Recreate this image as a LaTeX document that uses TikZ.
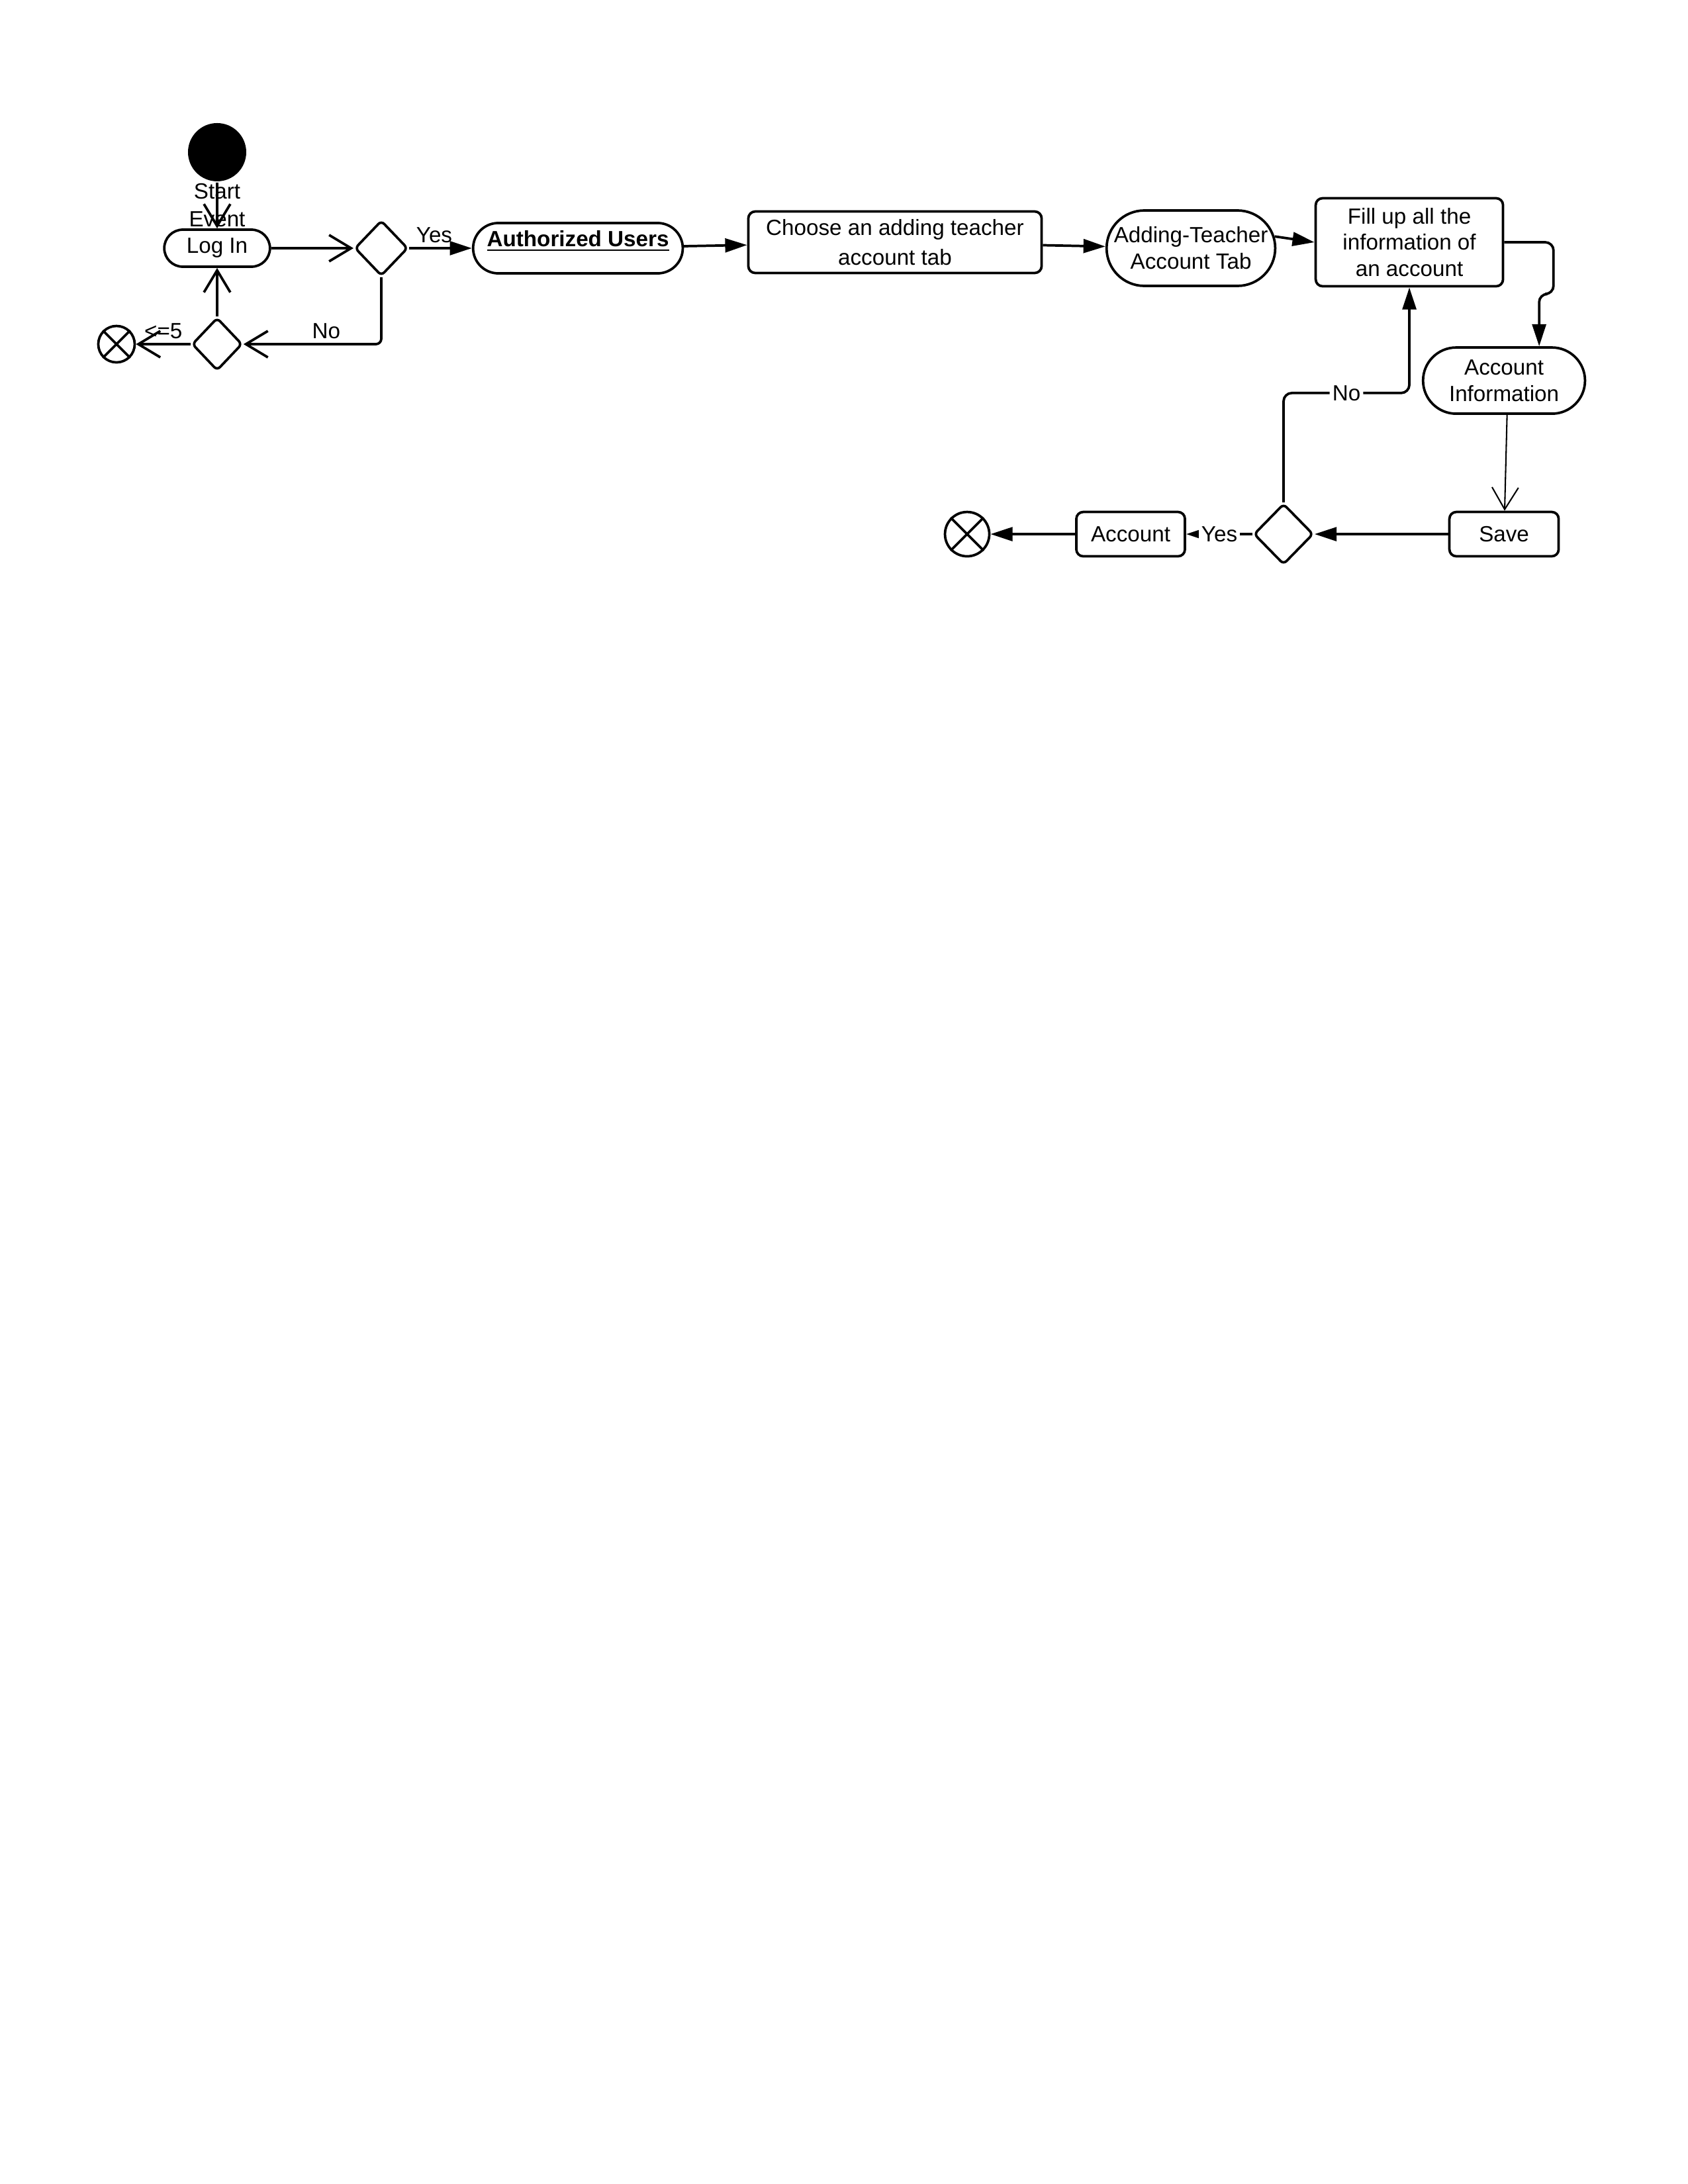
\documentclass[tikz,border=0pt]{standalone}
\usepackage{fontspec}
\setmainfont{Liberation Sans}
\usetikzlibrary{positioning, arrows.meta, shapes.geometric, shapes.misc}
\tikzset{
    every node/.style={font=\fontsize{8}{9.6}\selectfont}, % Small sans labels
    flow/.style={-{Triangle[length=8pt,width=5pt]}}, % Filled arrowheads
    openhead/.style={-{Straight Barb[length=8pt,width=9.6pt]}}, % Open arrowheads
    action/.style={draw, rectangle, rounded corners=2.5pt, align=center, inner sep=1pt},
    pill/.style={draw, rounded rectangle, align=center, inner sep=1pt},
    decision/.style={draw, diamond, rounded corners=1.5pt, inner sep=0pt, minimum width=0.68cm, minimum height=0.71cm},
    finalnode/.style={draw, circle, inner sep=0pt},
    onedge/.style={fill=white, inner sep=1pt},
}

\begin{document}
\begin{tikzpicture}[on grid, line width=0.9pt]
    \useasboundingbox (0,0) rectangle (21.59,-27.94);

    % Log in part
    \node[circle, fill=black, minimum size=0.745cm, inner sep=0pt,
          label={[align=center, inner sep=0pt, font=\fontsize{8}{10}\selectfont]below:Start\\Event}] (start) at (2.777,-1.947) {};
    \node[pill, minimum width=1.422cm, minimum height=0.474cm] (login) [below=1.228cm of start] {Log In};
    \node[decision] (d1) [right=2.1cm of login] {};
    \node[decision, minimum width=0.643cm, minimum height=0.677cm] (d2) [below=1.228cm of login] {};
    \node[finalnode, minimum size=0.466cm] (end1) [left=1.287cm of d2] {};

    % Adding a teacher
    \node[pill, minimum width=2.752cm, minimum height=0.644cm, font=\fontsize{8}{9.6}\selectfont\bfseries,
          text height=6pt, text depth=7.4pt] (auth) [right=2.515cm of d1] {\underline{Authorized Users}};
    \node[action, minimum width=3.751cm, minimum height=0.787cm, font=\fontsize{8}{11}\selectfont] (choose) [right=4.055cm of auth, yshift=0.076cm] {Choose an adding teacher\\account tab};
    \node[pill, minimum width=2.227cm, minimum height=0.965cm] (tab) [right=3.785cm of choose, yshift=-0.076cm] {Adding-Teacher\\Account Tab};
    \node[action, minimum width=2.396cm, minimum height=1.126cm] (fill) [right=2.794cm of tab, yshift=0.076cm] {Fill up all the\\information of\\an account};
    \node[pill, minimum width=2.142cm, minimum height=0.847cm] (info) [below right=1.770cm and 1.211cm of fill] {Account\\Information};
    \node[action, minimum width=1.397cm, minimum height=0.567cm] (save) [below=1.964cm of info] {Save};
    \node[decision, minimum width=0.762cm, minimum height=0.779cm] (d3) [left=2.82cm of save] {};
    \node[action, minimum width=1.389cm, minimum height=0.567cm] (acct) [left=1.956cm of d3] {Account};
    \node[finalnode, minimum size=0.567cm] (end2) [left=2.091cm of acct] {};
    \coordinate (jog) at ([xshift=0.449cm, yshift=0.669cm]info.north);

    \foreach \e in {end1, end2}
        \draw (\e.45) -- (\e.225) (\e.135) -- (\e.315);

    \path
        (start) edge[openhead] (login)
        (login) edge[openhead] (d1)
        (d1) edge[flow] node[above, pos=0.4, inner sep=1.5pt] {Yes} (auth)
        (d2) edge[openhead] (login)
             edge[openhead] node[above, inner sep=1.5pt] {<=5} (end1)
        (auth) edge[flow] (choose)
        (choose) edge[flow] (tab)
        (tab.8) edge[flow] (fill.west)
        (info.-85) edge[openhead, line width=0.5pt] (save)
        (save) edge[flow] (d3)
        (d3) edge[flow] node[onedge] {Yes} (acct)
        (acct) edge[flow] (end2);

    \draw[openhead, rounded corners=2pt] (d1) |- node[pos=0.7, above, inner sep=1.5pt] {No} (d2);
    \draw[flow, rounded corners=3pt] (fill.east) -- ++(0.63,0) |- (jog) -- (jog |- info.north);
    % back to the form
    \draw[flow, rounded corners=3pt] (d3.north) -- ++(0,1.4) -| node[pos=0.25, onedge] {No} (fill);
\end{tikzpicture}
\end{document}
